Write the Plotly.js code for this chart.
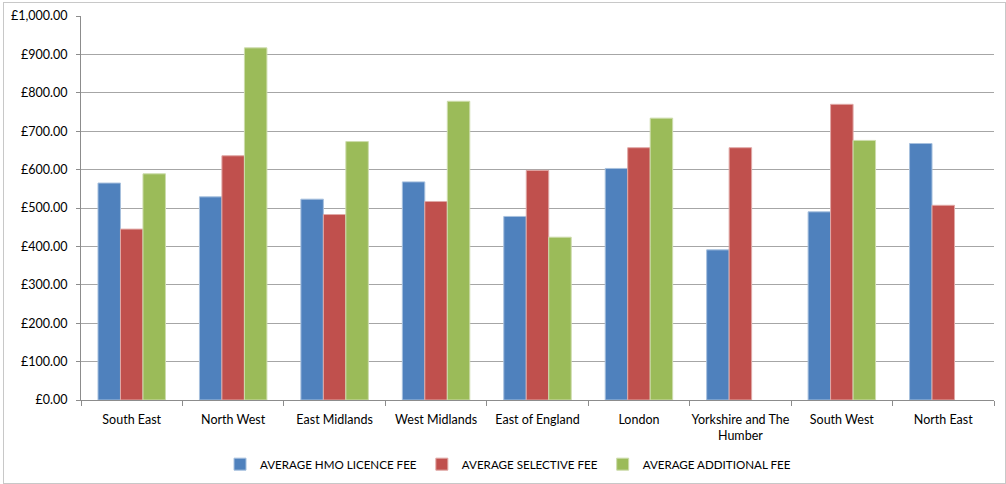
<!DOCTYPE html>
<html>
<head>
<meta charset="utf-8">
<script src="https://cdn.plot.ly/plotly-3.0.1.min.js"></script>
<style>
html,body{margin:0;padding:0;background:#fff;}
#frame{position:absolute;left:3px;top:2px;width:1001px;height:480px;border:1px solid #c8c8c8;}
#chart{position:absolute;left:0;top:0;width:1006px;height:484px;}
</style>
</head>
<body>
<div id="frame"></div>
<div id="chart"></div>
<script>
const regions = ["South East","North West","East Midlands","West Midlands","East of England","London","Yorkshire and The<br>Humber","South West","North East"];
const hmoFee = [565, 529, 523, 568, 478, 603, 391, 490, 668];
const selectiveFee = [445, 636, 483, 517, 598, 657, 657, 770, 507];
const additionalFee = [589, 917, 673, 778, 424, 734, null, 676, null];
const seriesNames = ["AVERAGE HMO LICENCE FEE","AVERAGE SELECTIVE FEE","AVERAGE ADDITIONAL FEE"];
const yTicks = [0,100,200,300,400,500,600,700,800,900,1000];
const yTickText = yTicks.map(v => "\u00a3" + v.toLocaleString("en-GB",{minimumFractionDigits:2, maximumFractionDigits:2}));

const colors = ["#4f81bd","#c0504d","#9bbb59"];
const lineColors = ["#a7c0de","#e0a8a6","#cddcac"];
const series = [hmoFee, selectiveFee, additionalFee];

const traces = series.map((vals,i)=>({
  type:"bar",
  name:seriesNames[i],
  x:regions,
  y:vals,
  marker:{color:colors[i], line:{color:lineColors[i], width:1}},
  hoverinfo:"none"
}));

const layout = {
  width:1006, height:484,
  margin:{l:81, r:12, t:16, b:84},
  paper_bgcolor:"rgba(0,0,0,0)",
  plot_bgcolor:"#fff",
  font:{family:"Lato, 'Open Sans', sans-serif", size:12.5, color:"#000"},
  barmode:"group",
  bargap:0.335,
  bargroupgap:0,
  showlegend:true,
  legend:{orientation:"h", x:0.505, xref:"container", xanchor:"center",
          y:0.041, yref:"container", yanchor:"middle",
          font:{size:11.6}, itemwidth:30, traceorder:"normal"},
  xaxis:{
    type:"category",
    showline:true, linecolor:"#8c8c8c", linewidth:1,
    ticks:"outside", tickson:"boundaries", ticklen:5, tickcolor:"#8c8c8c",
    ticklabelstandoff:8,
    showgrid:false, automargin:false, tickangle:0
  },
  yaxis:{
    range:[0,1000], tickvals:yTicks, ticktext:yTickText,
    showline:true, linecolor:"#8c8c8c", linewidth:1,
    ticks:"outside", ticklen:4, tickcolor:"#8c8c8c",
    ticklabelstandoff:6,
    showgrid:true, gridcolor:"#a6a6a6", gridwidth:1,
    zeroline:false, automargin:false
  }
};

Plotly.newPlot("chart", traces, layout, {staticPlot:true, displayModeBar:false});
</script>
</body>
</html>
